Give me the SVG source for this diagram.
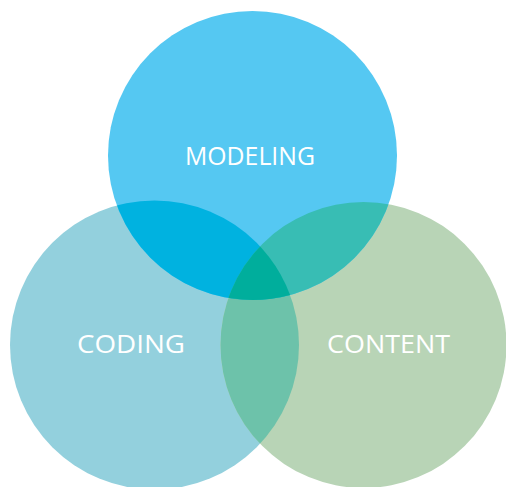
<svg xmlns="http://www.w3.org/2000/svg" width="506" height="487" viewBox="0 0 506 487">
  <style>
    .label { fill: #ffffff; font-family: "Open Sans", "Liberation Sans", sans-serif; font-weight: 400; font-size: 26px; text-anchor: middle; }
  </style>
  <defs>
    <circle id="shape-modeling" cx="252.5" cy="155.5" r="144.5"/>
    <circle id="shape-coding" cx="154.5" cy="345" r="144.5"/>
    <circle id="shape-content" cx="363.5" cy="345" r="143"/>
    <clipPath id="clip-modeling"><use href="#shape-modeling"/></clipPath>
    <clipPath id="clip-coding"><use href="#shape-coding"/></clipPath>
    <clipPath id="clip-coding-modeling" clip-path="url(#clip-coding)"><use href="#shape-modeling"/></clipPath>
  </defs>
  <rect width="506" height="487" fill="#ffffff"/>

  <g id="coding">
    <use href="#shape-coding" fill="#93d0dd"/>
  </g>
  <g id="content">
    <use href="#shape-content" fill="#b8d4b6"/>
  </g>
  <g id="modeling">
    <use href="#shape-modeling" fill="#55c8f2"/>
  </g>

  <!-- overlap regions -->
  <g id="overlaps">
    <use href="#shape-content" fill="#6dc2aa" clip-path="url(#clip-coding)"/>
    <use href="#shape-coding" fill="#00b2e0" clip-path="url(#clip-modeling)"/>
    <use href="#shape-content" fill="#38bdb4" clip-path="url(#clip-modeling)"/>
    <use href="#shape-content" fill="#00ae9c" clip-path="url(#clip-coding-modeling)"/>
  </g>

  <g id="labels">
    <text class="label" x="250" y="165" textLength="130" lengthAdjust="spacingAndGlyphs">MODELING</text>
    <text class="label" x="131" y="353" textLength="108" lengthAdjust="spacingAndGlyphs">CODING</text>
    <text class="label" x="388.5" y="353" textLength="123" lengthAdjust="spacingAndGlyphs">CONTENT</text>
  </g>
</svg>
